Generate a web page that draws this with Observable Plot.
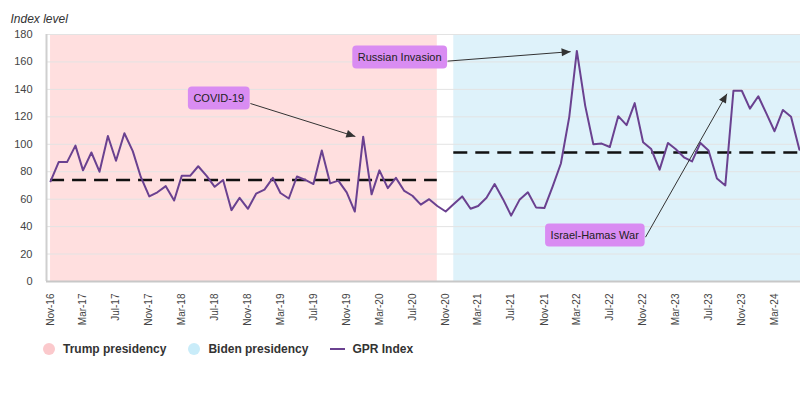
<!DOCTYPE html>
<html><head><meta charset="utf-8">
<script src="https://cdn.jsdelivr.net/npm/d3@7"></script>
<script src="https://cdn.jsdelivr.net/npm/@observablehq/plot@0.6"></script>
<style>
body{margin:0;background:#fff;font-family:"Liberation Sans",Arial,sans-serif;}
#wrap{position:relative;width:800px;height:400px;overflow:hidden;}
#legend{position:absolute;left:43px;top:340px;height:18px;display:flex;align-items:center;font-size:12px;font-weight:bold;color:#333;}
#legend .item{display:flex;align-items:center;margin-right:22px;}
#legend .sym{display:inline-block;margin-right:8px;}
</style></head><body>
<div id="wrap"><div id="chart"></div><div id="legend"></div></div>
<script>
// ---- data ----
const startMonth = "2016-11-01";
const gprValues = [73,87,87,99,81,94,80,106,88,108,95,76,62,65,69.5,59,77,77,84,77,69,74,52,61,
  53,64,67,75.5,64.5,60.5,76.5,74,71,95.5,71.5,73.5,65,51,105.5,63.5,81,68,75.5,66,62.5,56,60,55,
  51,56.5,62,53,55,61,71,60,48,59.5,65,54,53.5,69,86,120,168,128,100,100.5,98,120.5,114,130,101.5,96.5,
  81.5,101,96.5,90.5,87.5,101,95.5,75,70,139,139,126,135,122,109.5,125,120,96];
const tickLabels = ["Nov-16","Mar-17","Jul-17","Nov-17","Mar-18","Jul-18","Nov-18","Mar-19","Jul-19",
  "Nov-19","Mar-20","Jul-20","Nov-20","Mar-21","Jul-21","Nov-21","Mar-22","Jul-22","Nov-22","Mar-23",
  "Jul-23","Nov-23","Mar-24"];
const yTicks = [0,20,40,60,80,100,120,140,160,180];
const presidencyNames = ["Trump presidency","Biden presidency"];
const presidencyStart = ["2016-11-01","2020-12-01"];
const presidencyEnd = ["2020-10-01","2024-06-05"];
const presidencyAverage = [74,94];
const seriesName = "GPR Index";
const axisTitle = "Index level";
const annotationLabels = ["COVID-19","Russian Invasion","Israel-Hamas War"];
const annotationLabelDate = ["2018-07-16","2020-05-15","2022-05-06"];
const annotationLabelValue = [133.4,163.2,33.5];
const annotationFromDate = ["2018-11-10","2020-11-08","2022-11-10"];
const annotationFromValue = [129.7,160.6,32.3];
const annotationToDate = ["2019-12-03","2022-02-06","2023-09-07"];
const annotationToValue = [105.7,167.5,136.8];

// ---- tables ----
const parseTick = d3.utcParse("%b-%y");
const months = d3.utcMonth.range(new Date(startMonth), d3.utcMonth.offset(new Date(startMonth), gprValues.length));
const series = gprValues.map((v,i)=>({date: months[i], value: v}));
const bands = presidencyNames.map((n,i)=>({name:n, start:new Date(presidencyStart[i]), end:new Date(presidencyEnd[i]), avg:presidencyAverage[i]}));
const notes = annotationLabels.map((l,i)=>({label:l, lx:new Date(annotationLabelDate[i]), ly:annotationLabelValue[i],
  x1:new Date(annotationFromDate[i]), y1:annotationFromValue[i], x2:new Date(annotationToDate[i]), y2:annotationToValue[i]}));
const xDomain = [new Date("2016-10-17"), new Date("2024-06-05")];

const bandColors = ["#ffdfdf","#def2fa"];
const lineColor = "#6a4190";

const plot = Plot.plot({
  width: 800, height: 335,
  marginLeft: 46, marginRight: 0, marginTop: 34, marginBottom: 54,
  style: {fontFamily: "'Liberation Sans', Arial, sans-serif", fontSize: "11px", color: "#444", background: "transparent"},
  x: {type: "utc", domain: xDomain},
  y: {domain: [0,180]},
  color: {domain: presidencyNames, range: bandColors},
  marks: [
    Plot.rect(bands, {x1: "start", x2: "end", fill: "name"}),
    Plot.gridY(yTicks, {stroke: "#e3e3e3", strokeOpacity: 1}),
    Plot.axisY(yTicks, {tickSize: 0, tickPadding: 14, fontSize: 11, label: null}),
    Plot.axisX(tickLabels.map(parseTick), {tickFormat: d3.utcFormat("%b-%y"), tickRotate: -90, tickSize: 0, tickPadding: 12, fontSize: 10, label: null}),
    Plot.ruleX([xDomain[0]], {stroke: "#cfcfcf", strokeWidth: 2}),
    Plot.ruleY([0], {stroke: "#c8c8c8", strokeWidth: 2}),
    Plot.ruleY(bands, {y: "avg", x1: "start", x2: "end", stroke: "#111", strokeWidth: 2.5, strokeDasharray: "14,8"}),
    Plot.line(series, {x: "date", y: "value", stroke: lineColor, strokeWidth: 2, strokeLinejoin: "round"}),
    Plot.link(notes, {x1: "x1", y1: "y1", x2: "x2", y2: "y2", stroke: "#333", strokeWidth: 1, markerEnd: "arrow"}),
    Plot.text(notes, {x: "lx", y: "ly", text: "label", fontSize: 11, fill: "#222"}),
    Plot.text([axisTitle], {frameAnchor: "top-left", dx: -36, dy: -12, lineAnchor: "bottom", textAnchor: "start", fontStyle: "italic", fontSize: 12, fill: "#333"})
  ]
});
document.getElementById("chart").append(plot);

// label boxes
plot.querySelectorAll("text").forEach(t => {
  if (annotationLabels.includes(t.textContent)) {
    const b = t.getBBox();
    const r = document.createElementNS("http://www.w3.org/2000/svg", "rect");
    r.setAttribute("x", b.x - 5.5); r.setAttribute("y", b.y - 5.5);
    r.setAttribute("width", b.width + 11); r.setAttribute("height", b.height + 11);
    r.setAttribute("rx", 4); r.setAttribute("fill", "#d98cf2");
    if (t.getAttribute("transform")) r.setAttribute("transform", t.getAttribute("transform"));
    t.parentNode.insertBefore(r, t);
  }
});
// filled arrowheads
plot.querySelectorAll("marker").forEach(m => {
  m.setAttribute("overflow", "visible");
  m.setAttribute("fill", "#333"); m.setAttribute("stroke", "none");
  const p = m.querySelector("path");
  if (p) { p.setAttribute("d", "M-13.5,-6L0,0L-13.5,6Z"); p.setAttribute("fill", "#333"); p.setAttribute("stroke", "none"); }
});

// legend
const legend = document.getElementById("legend");
presidencyNames.forEach((n,i) => {
  const it = document.createElement("span"); it.className = "item";
  const s = document.createElement("span"); s.className = "sym";
  s.style.cssText = `width:12px;height:12px;border-radius:50%;background:${["#fbc9cc","#c9ecf9"][i]}`;
  it.append(s, document.createTextNode(n)); legend.append(it);
});
const it = document.createElement("span"); it.className = "item";
const s = document.createElement("span"); s.className = "sym";
s.style.cssText = `width:15px;height:2px;background:${lineColor};margin-right:7px`;
it.append(s, document.createTextNode(seriesName)); legend.append(it);
</script>
</body></html>
